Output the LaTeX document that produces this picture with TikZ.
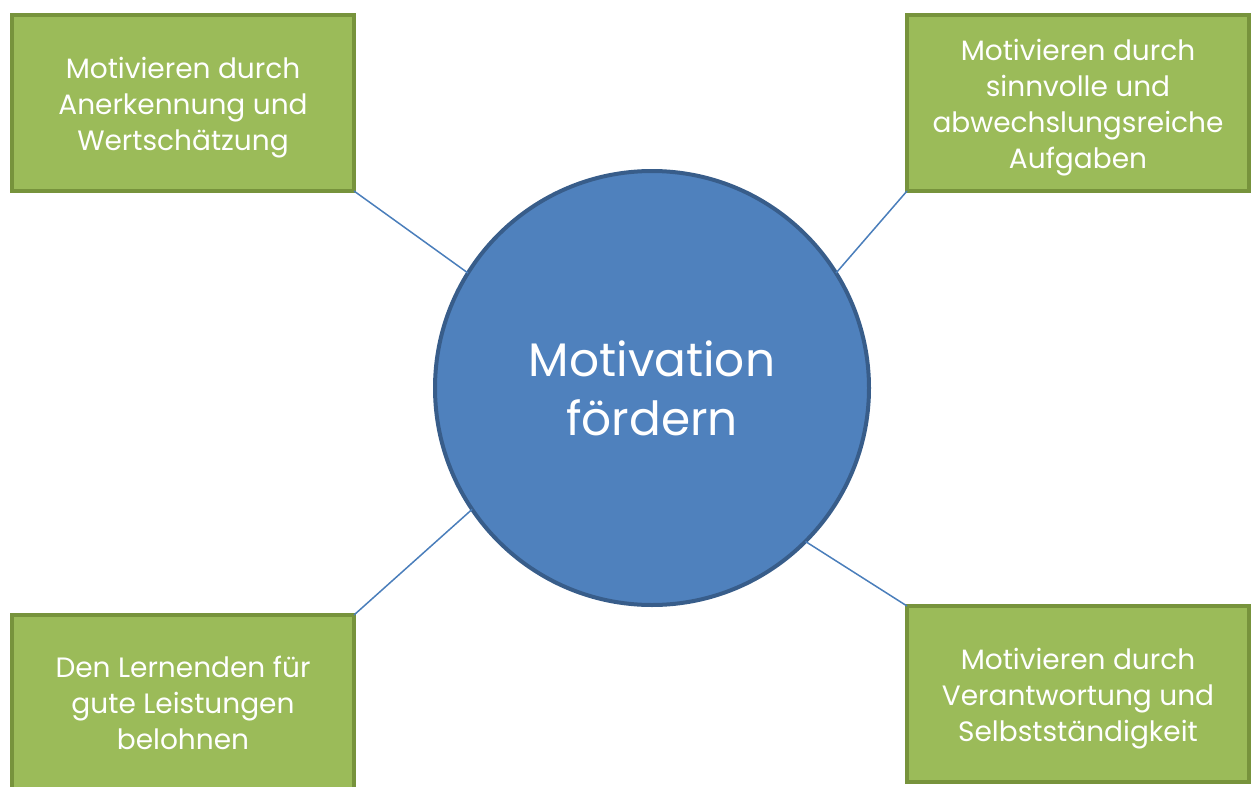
\documentclass[tikz,border=0pt]{standalone}
\usepackage{fontspec}
\setmainfont{Poppins}
\definecolor{boxfill}{HTML}{9BBB59}
\definecolor{boxline}{HTML}{77933C}
\definecolor{circfill}{HTML}{4F81BD}
\definecolor{circline}{HTML}{385D8A}
\definecolor{conn}{HTML}{4A7EBB}
\newcommand{\toplift}{\rule{0pt}{31pt}}
\tikzset{
  greenbox/.style={draw=boxline, fill=boxfill, line width=4pt, minimum width=342pt, minimum height=176pt, outer sep=0pt, text=white, align=center, font=\fontsize{28}{36}\selectfont},
  hub/.style={circle, draw=circline, fill=circfill, line width=4pt, minimum size=434pt, outer sep=0pt, text=white, align=center, font=\fontsize{47}{59}\selectfont},
  link/.style={draw=conn, line width=1.5pt}
}
\begin{document}
\begin{tikzpicture}[x=1pt,y=-1pt]
\useasboundingbox (0,0) rectangle (1253,787);
\node[hub] (c) at (652,388) {Motivation\\fördern};
\node[greenbox] (tl) at (183,103) {\toplift Motivieren durch\\Anerkennung und\\Wertschätzung};
\node[greenbox] (tr) at (1078,103) {\toplift Motivieren durch\\sinnvolle und\\abwechslungsreiche\\Aufgaben};
\node[greenbox] (bl) at (183,703) {Den Lernenden für\\gute Leistungen\\belohnen};
\node[greenbox] (br) at (1078,694) {\toplift Motivieren durch\\Verantwortung und\\Selbstständigkeit};
\draw[link] (tl.south east) -- (c.148);
\draw[link] (tr.south west) -- (c.32);
\draw[link] (bl.north east) -- (c.214);
\draw[link] (br.north west) -- (c.315.6);
\end{tikzpicture}
\end{document}
